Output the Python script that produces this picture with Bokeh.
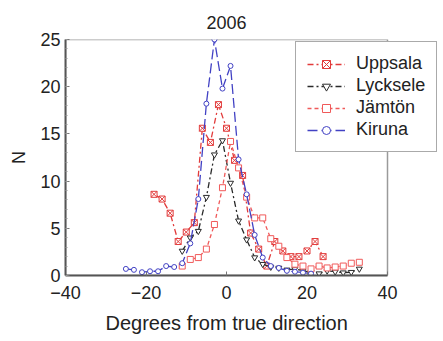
from bokeh.plotting import figure
from bokeh.models import Legend, LegendItem, FixedTicker, Title
from bokeh.embed import file_html
from bokeh.resources import INLINE

# ---- data ----
upp_x = [-18, -16, -14, -12, -10, -8, -6, -4, -2, 0, 2, 4, 6, 8, 10, 12, 14, 16, 18, 20, 22, 24]
upp_y = [8.6, 8.1, 6.6, 3.6, 4.6, 5.6, 15.6, 14.1, 18.1, 15.6, 12.2, 10.6, 4.5, 2.8, 1.0, 3.6, 2.6, 2.0, 2.0, 2.6, 3.6, 2.0]

lyc_x = [-11, -9, -7, -5, -3, -1, 1, 3, 5, 7, 9, 11, 13, 15, 17, 19, 21, 23, 25, 27, 29, 31, 33]
lyc_y = [2.6, 4.0, 4.7, 8.3, 12.8, 14.3, 9.8, 5.8, 3.8, 1.9, 1.2, 0.9, 0.8, 0.6, 0.7, 0.5, 0.35, 0.2, 0.5, 0.4, 0.3, 0.35, 0.7]

jam_x = [-11, -9, -7, -5, -3, -1, 1, 3, 5, 7, 9, 11, 13, 15, 17, 19, 21, 23, 25, 27, 29, 31, 33]
jam_y = [1.0, 1.7, 1.9, 2.8, 5.4, 9.3, 14.2, 11.4, 8.3, 6.1, 6.1, 3.9, 3.1, 1.9, 1.2, 1.0, 0.7, 1.0, 0.8, 0.9, 1.0, 1.3, 1.4]

kir_x = [-25, -23, -21, -19, -17, -15, -13, -11, -9, -7, -5, -3, -1, 1, 3, 5, 7, 9, 11, 13, 15, 17, 19, 21]
kir_y = [0.7, 0.6, 0.35, 0.45, 0.45, 1.0, 0.9, 1.3, 3.4, 8.1, 18.2, 25.0, 19.8, 22.2, 12.3, 8.6, 4.3, 1.9, 1.0, 0.8, 0.5, 0.4, 0.3, 0.2]

x_ticks = [-40, -20, 0, 20, 40]
y_ticks = [0, 5, 10, 15, 20, 25]
x_lo, x_hi = -40, 40
y_lo, y_hi = 0, 25

FONT = "Liberation Sans"
TXT = "#222222"

# frame spans the full width (legend overflows the axes box in the reference);
# the x range is extended so that -40..40 covers 322 px of the 378 px frame
x_end = x_lo + (x_hi - x_lo) * 378 / 322

p = figure(width=443, height=341, x_range=(x_lo, x_end), y_range=(y_lo, y_hi),
           output_backend="svg", toolbar_location=None,
           min_border_left=65, min_border_right=0, min_border_top=39, min_border_bottom=66)
p.title.visible = False
p.add_layout(Title(text="2006", align="left", offset=141, text_font=FONT,
                   text_font_size="18px", text_font_style="normal",
                   vertical_align="top", text_color=TXT, standoff=18), "above")

p.xgrid.visible = False
p.ygrid.visible = False
p.outline_line_color = None

for ax in (p.xaxis[0], p.yaxis[0]):
    ax.axis_line_color = "#555555"
    ax.axis_line_width = 2
    ax.major_tick_in = 4
    ax.major_tick_out = 0
    ax.minor_tick_in = 2
    ax.minor_tick_out = 0
    ax.major_tick_line_color = "#777777"
    ax.minor_tick_line_color = "#999999"
    ax.major_label_text_font = FONT
    ax.major_label_text_font_size = "18px"
    ax.major_label_text_color = TXT
    ax.axis_label_text_font = FONT
    ax.axis_label_text_font_size = "18px"
    ax.axis_label_text_font_style = "normal"
    ax.axis_label_text_color = TXT

p.xaxis.bounds = (x_lo, x_hi)
p.xaxis.ticker = FixedTicker(ticks=x_ticks, minor_ticks=[])
p.yaxis.ticker = FixedTicker(ticks=y_ticks, minor_ticks=list(range(0, 26)))
p.yaxis.axis_label = "N"
p.xaxis.major_label_standoff = 10
p.yaxis.major_label_standoff = 5
p.yaxis.axis_label_standoff = 8

# x-axis title (centred under the -40..40 box)
p.add_layout(Title(text="Degrees from true direction", align="left", offset=40,
                   text_font=FONT, text_font_size="20px", text_font_style="normal",
                   text_color=TXT, standoff=16), "below")

# top and right border of the -40..40 x 0..25 box
p.quad(left=[x_lo], right=[x_hi], bottom=[y_lo], top=[y_hi],
       fill_color=None, line_color="#9a9a9a", line_width=1.5)

series = [
    ("Uppsala", upp_x, upp_y, "#e23b3b", "6 3 2 3", "square_x", 6),
    ("Lycksele", lyc_x, lyc_y, "#2a2a2a", "6 3 2 3", "inverted_triangle", 6),
    ("Jämtön", jam_x, jam_y, "#f05a5a", "4 3", "square", 6),
    ("Kiruna", kir_x, kir_y, "#4242c4", "10 4", "circle", 5),
]

items = []
for name, xs, ys, col, dash, marker, size in series:
    ln = p.line(xs, ys, line_color=col, line_dash=dash, line_width=1.3)
    sc = p.scatter(xs, ys, marker=marker, size=size, line_color=col,
                   fill_color="white", line_width=1)
    items.append(LegendItem(label=name, renderers=[ln, sc]))

legend = Legend(items=items, location=(230, 123), orientation="vertical")
legend.label_text_font = FONT
legend.label_text_font_size = "18px"
legend.label_text_color = TXT
legend.glyph_width = 38
legend.glyph_height = 20
legend.label_height = 20
legend.spacing = 1
legend.padding = 11
legend.margin = 0
legend.label_standoff = 11
legend.border_line_color = "#555555"
legend.border_line_width = 1.5
legend.background_fill_alpha = 1
p.add_layout(legend, "center")

open("out.html", "w").write(file_html(p, INLINE))
